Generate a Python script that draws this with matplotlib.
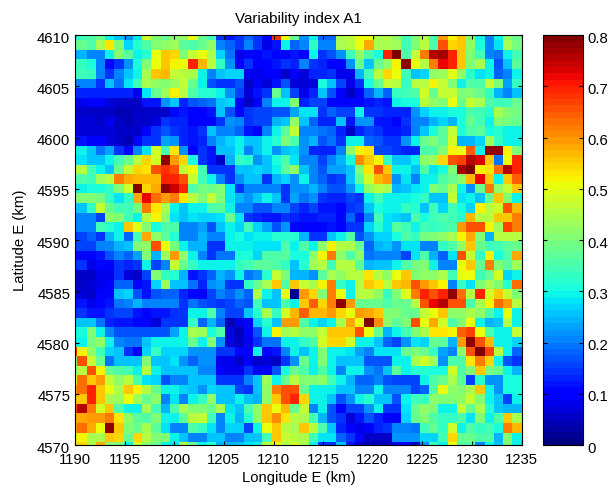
import matplotlib
matplotlib.use('Agg')
import matplotlib.pyplot as plt
from matplotlib.transforms import ScaledTranslation
import numpy as np

plt.rcParams['font.family'] = 'Liberation Sans'
plt.rcParams['font.size'] = 10.7

x_ticks = [1190, 1195, 1200, 1205, 1210, 1215, 1220, 1225, 1230, 1235]
y_ticks = [4570, 4575, 4580, 4585, 4590, 4595, 4600, 4605, 4610]
cbar_ticks = [0, 0.1, 0.2, 0.3, 0.4, 0.5, 0.6, 0.7, 0.8]
cbar_labels = ['0', '0.1', '0.2', '0.3', '0.4', '0.5', '0.6', '0.7', '0.8']

# index, in hundredths, top row first
index_a1 = [
    [30,34,36,38,30,25,22,28,48,40,38,40,42,50,38,35,15,12,14,18,14,10,68,50,38, 22,30,18,18,44,45,50,50,44,45,42,35,40,45,35,60,52,55,42,30,20,30,42,38,38],
    [38,38,36,44,53,41,27,32,36,41,42,43,37,36,38,42,20,18,15,20,15,8,12,29,18, 20,33,20,20,44,46,51,58,44,44,43,35,40,46,36,66,54,55,42,31,21,28,44,39,38],
    [22,24,20,20,30,40,37,30,32,51,56,54,41,47,50,44,27,19,8,10,9,12,10,10,12, 9,30,14,17,22,34,42,36,31,70,80,36,47,62,75,77,70,55,41,35,20,19,30,34,36],
    [33,33,31,20,11,15,22,31,40,50,55,52,50,70,57,46,33,22,9,15,9,10,12,14,13, 20,14,13,10,10,22,38,26,38,42,52,78,50,46,62,72,70,55,40,44,30,17,25,37,38],
    [34,34,33,20,15,20,25,30,44,56,57,47,46,44,30,20,25,27,27,8,8,9,9,6,10, 7,13,13,14,8,8,24,34,46,54,51,35,25,27,42,43,49,42,32,28,29,18,20,30,30],
    [20,20,20,14,26,19,28,35,44,42,41,43,47,38,30,17,15,15,17,6,10,7,12,17,7, 7,7,31,25,16,8,15,31,38,47,46,33,45,46,52,47,40,30,36,36,47,40,23,33,33],
    [14,13,13,13,13,13,13,8,28,38,43,52,46,36,32,32,30,22,16,7,12,14,38,26,16, 8,13,25,17,11,6,9,18,24,18,33,35,36,48,38,47,47,40,40,38,33,24,20,26,26],
    [8,8,9,9,7,6,6,6,12,12,22,26,13,17,18,19,26,27,9,5,9,20,30,30,40, 13,16,16,11,11,10,10,12,13,12,30,31,31,45,42,40,51,38,47,44,36,34,34,38,38],
    [6,6,5,5,5,4,4,5,5,6,6,11,12,11,9,12,26,17,10,15,16,16,17,17,23, 28,28,14,18,16,16,30,15,15,13,13,13,22,27,30,30,31,31,36,35,32,44,40,39,38],
    [7,7,7,5,8,5,4,6,6,7,15,13,13,9,9,10,15,22,20,15,16,16,24,25,42, 26,18,13,13,26,12,22,22,12,12,9,15,20,21,24,27,24,31,38,35,30,40,39,38,38],
    [7,7,7,7,7,6,6,6,11,15,17,15,13,12,15,26,20,20,18,12,9,20,30,37,47, 20,20,19,18,13,5,13,16,15,12,12,13,20,26,31,37,47,31,36,37,31,32,30,30,30],
    [12,12,9,9,7,6,4,10,14,15,23,22,13,12,13,20,24,27,29,26,26,29,32,40,36, 22,24,17,19,14,30,30,18,17,14,14,22,30,38,40,37,48,24,24,27,43,33,30,30,30],
    [30,30,25,19,23,14,11,20,28,48,35,53,22,11,15,12,26,26,30,21,26,30,22,25,27, 22,13,13,13,20,42,52,53,16,16,14,13,13,36,36,40,52,50,64,30,78,78,52,41,40],
    [28,28,26,25,30,35,38,46,54,48,78,60,54,31,15,12,6,24,33,32,22,26,31,36,28, 20,21,16,20,24,31,61,55,52,33,26,26,30,42,43,54,66,67,75,73,55,19,51,70,70],
    [45,45,35,30,26,38,47,54,53,66,68,66,47,50,34,14,14,14,26,26,27,26,30,37,42, 25,20,17,23,23,26,40,53,65,56,30,30,26,36,28,31,40,77,80,52,53,63,76,70,70],
    [36,36,35,43,46,62,58,57,57,57,70,70,66,47,35,30,20,14,22,26,26,15,24,27,22, 30,20,18,15,16,25,37,48,57,60,22,28,20,30,29,36,38,42,57,72,56,30,55,64,64],
    [29,29,31,31,33,40,48,80,54,58,78,74,69,36,39,38,40,28,15,20,20,20,21,14,22, 22,24,20,17,17,22,29,42,46,44,24,26,28,30,40,38,44,30,22,38,62,42,47,56,56],
    [41,41,40,39,33,28,33,58,72,63,59,62,53,45,40,47,40,28,24,22,26,30,26,15,23, 19,22,14,13,13,16,15,30,34,30,30,30,31,33,26,26,47,28,29,25,38,55,40,29,29],
    [25,25,33,47,38,35,35,39,62,53,44,30,25,30,30,36,37,29,20,20,17,17,20,20,16, 13,16,12,12,11,15,16,25,31,29,29,33,32,26,34,27,34,31,27,52,46,48,66,57,57],
    [20,20,20,16,42,40,35,29,45,52,42,28,25,28,27,27,28,38,28,14,13,12,12,14,13, 12,12,13,13,11,18,12,21,35,28,27,26,36,31,35,36,34,32,57,46,45,56,56,62,62],
    [20,20,20,34,32,30,56,49,40,31,36,36,20,20,23,17,25,29,27,35,27,23,17,22,11, 10,10,10,12,10,14,14,27,32,28,37,34,30,35,33,34,36,60,66,65,52,43,67,62,62],
    [16,16,18,14,24,30,18,35,58,42,37,32,21,20,24,20,20,30,31,28,30,29,32,32,32, 24,14,14,26,30,36,17,22,27,27,31,36,33,39,40,42,44,52,58,40,24,45,46,46,46],
    [16,16,16,20,20,24,26,41,42,66,50,39,29,24,24,15,15,30,30,30,28,28,28,36,30, 36,30,42,52,45,44,38,18,24,25,22,28,28,21,21,33,36,42,56,38,34,34,37,38,38],
    [11,11,11,12,17,20,18,23,41,24,43,60,42,30,20,14,19,19,31,31,27,36,36,37,31, 31,42,52,62,42,36,42,19,20,20,20,16,28,36,24,18,28,66,47,33,52,31,36,58,58],
    [14,14,8,10,9,14,13,15,30,16,20,47,38,33,30,30,30,29,33,34,37,37,36,33,26, 32,43,46,35,45,46,37,24,25,25,30,36,39,40,30,21,21,50,55,38,62,40,37,43,43],
    [5,5,5,8,8,15,7,6,16,41,33,32,24,12,15,18,24,22,29,19,22,32,47,40,24, 24,22,37,44,42,46,45,53,46,42,50,55,40,42,42,44,34,50,50,35,38,48,27,30,30],
    [6,6,7,8,9,18,18,11,12,27,43,26,25,19,13,22,23,15,15,33,38,44,55,36,55, 47,44,52,62,33,30,45,56,53,46,55,57,66,60,55,52,20,33,28,40,44,40,32,63,63],
    [7,7,6,9,10,26,27,17,12,17,18,18,13,10,9,16,20,18,22,18,45,30,26,50,2, 60,54,40,62,50,29,46,45,42,33,40,49,62,70,66,70,78,63,45,70,48,55,47,41,41],
    [12,12,8,11,12,19,20,24,21,21,20,21,14,19,17,16,15,16,18,17,34,25,25,36,30, 56,64,54,62,78,60,38,38,38,36,38,38,45,65,72,76,65,65,36,44,52,63,60,46,46],
    [14,14,12,12,15,16,16,12,11,12,12,14,15,30,30,36,21,16,16,26,32,44,33,48,57, 64,57,57,60,54,50,60,58,55,40,40,38,38,47,50,56,42,42,44,42,36,30,50,30,30],
    [25,25,26,19,13,12,12,10,9,7,14,14,14,33,18,24,18,4,8,10,27,32,26,60,60, 36,30,27,30,44,58,51,79,61,42,37,40,66,51,58,48,36,40,50,30,24,26,46,30,30],
    [31,31,40,30,20,17,17,17,17,17,17,23,30,44,43,31,36,7,4,10,17,30,52,43,46, 42,42,47,56,56,55,66,50,38,24,30,35,40,44,53,53,52,64,67,50,36,30,30,47,47],
    [30,30,39,42,30,20,19,19,25,30,29,30,30,38,30,40,22,7,5,8,14,19,19,30,30, 33,36,48,54,54,48,30,30,25,18,16,22,28,27,38,37,24,60,78,65,57,30,30,27,27],
    [68,52,42,34,27,25,15,9,27,33,27,27,27,22,22,22,15,14,10,10,29,10,12,20,30, 26,30,40,30,30,28,23,21,28,28,28,38,40,38,33,23,20,42,65,79,67,45,30,18,18],
    [40,66,47,38,19,25,25,25,41,26,26,28,22,18,22,22,8,8,5,9,5,7,6,14,22, 38,30,40,30,26,26,26,17,17,17,30,30,44,48,43,22,36,36,53,62,54,30,17,15,15],
    [40,46,66,52,38,36,34,30,46,30,26,26,26,26,20,20,9,8,8,14,11,11,17,31,38, 36,30,36,30,21,29,29,22,19,26,37,30,32,32,31,31,48,36,40,56,39,38,30,24,24],
    [50,63,56,59,47,42,45,36,28,27,17,20,20,26,26,26,14,14,14,20,26,43,30,38,46, 40,40,42,35,30,24,18,18,21,17,16,16,16,30,36,38,44,37,16,32,22,22,31,31,31],
    [60,63,69,56,51,44,55,52,46,38,30,30,27,26,22,27,26,26,16,14,26,42,62,66,66, 38,30,30,30,26,26,20,20,29,21,20,20,16,18,36,50,42,40,44,56,30,22,31,31,31],
    [56,56,70,55,44,43,50,43,38,42,20,28,20,30,33,42,26,26,30,26,24,42,56,65,70, 54,30,30,26,17,22,30,32,25,25,17,29,34,33,42,40,40,42,47,40,30,26,16,30,30],
    [65,76,62,48,55,36,30,30,44,34,24,36,44,41,40,38,44,28,26,36,42,56,50,57,38, 47,20,30,17,10,16,16,22,29,14,15,28,38,42,40,30,30,47,38,44,32,25,24,24,24],
    [58,58,59,59,62,53,42,37,36,40,30,30,37,45,47,35,20,30,24,32,42,56,61,53,46, 44,34,24,17,14,7,12,17,13,9,9,27,38,40,36,33,33,36,28,40,30,36,56,44,44],
    [60,63,58,51,78,55,40,38,44,37,28,20,20,36,33,28,20,27,27,16,30,50,56,46,44, 56,46,36,26,13,9,8,10,13,14,20,21,19,34,38,33,48,30,36,33,34,31,62,57,57],
    [50,52,44,44,56,54,38,54,46,41,41,30,26,21,21,26,26,20,20,26,26,34,55,47,46, 44,34,28,28,18,14,10,6,6,6,22,22,22,27,27,34,54,38,38,36,36,24,40,30,30],
    [50,54,44,58,40,40,30,48,42,38,30,28,45,38,30,32,24,24,25,28,30,46,50,44,48, 44,30,14,15,26,12,5,4,4,4,8,10,4,22,34,30,50,36,36,20,30,26,40,30,30],
]

W, H = 609, 488
fig = plt.figure(figsize=(W/100, H/100), dpi=100)
ax = fig.add_axes([75/W, 1-445/H, 446.7/W, 410/H])
cax = fig.add_axes([543/W, 1-445/H, 40/W, 410/H])

# grid is a bit finer than 1 km, outer cells get clipped by the axes
dx, dy = 0.9319, 0.9337
vals = np.array(index_a1)/100
nr, nc = vals.shape
x0, y0 = 1189.3, 4610.42
cmap = plt.get_cmap('jet', 64)
im = ax.imshow(vals, cmap=cmap, vmin=0, vmax=0.8, aspect='auto', interpolation='nearest',
               extent=[x0, x0+nc*dx, y0-nr*dy, y0])
ax.set_xlim(1190, 1235)
ax.set_ylim(4570, 4610)
ax.set_xticks(x_ticks)
ax.set_yticks(y_ticks)
ax.tick_params(direction='in', top=True, right=True, length=3, width=0.8, labelsize=10.7)
ax.tick_params(axis='x', pad=5.5)
ax.tick_params(axis='y', pad=3.5)
ax.ticklabel_format(useOffset=False, style='plain')
ax.set_title('Variability index A1', fontsize=10.9, pad=8.5)
ax.set_xlabel('Longitude E (km)', fontsize=10.7, labelpad=3)
ax.set_ylabel('Latitude E (km)', fontsize=10.7, labelpad=7)

cb = fig.colorbar(im, cax=cax)
cb.set_ticks(cbar_ticks)
cb.set_ticklabels(cbar_labels)
cax.tick_params(direction='in', left=True, right=True, length=3, width=0.8, pad=3, labelsize=10.7)
cb.outline.set_linewidth(0.8)

# y labels sit a touch below their ticks in the original
shift = ScaledTranslation(0, -1.5/72, fig.dpi_scale_trans)
for lab in ax.get_yticklabels() + cax.get_yticklabels():
    lab.set_transform(lab.get_transform() + shift)

fig.savefig('out.png', dpi=100)
